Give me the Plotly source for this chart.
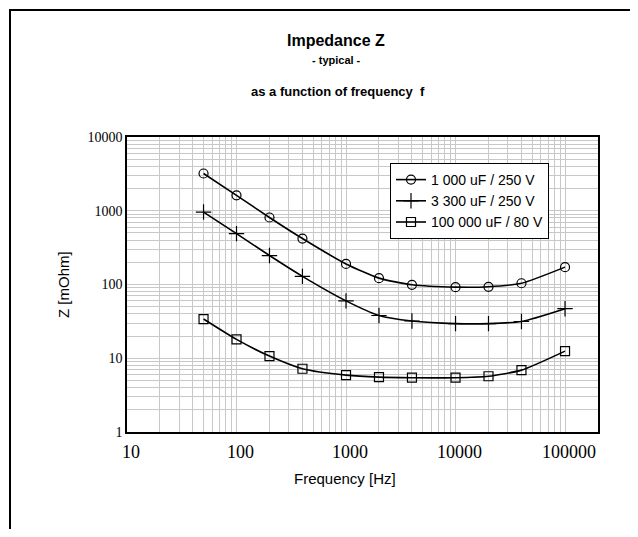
import plotly.graph_objects as go

# ---- data ----
freq_hz = [50, 100, 200, 400, 1000, 2000, 4000, 10000, 20000, 40000, 100000]
z_1000uF_250V = [3200, 1620, 810, 420, 190, 122, 99, 92, 93, 104, 172]
z_3300uF_250V = [960, 490, 247, 129, 60, 38, 32, 29.5, 29.5, 31.5, 47]
z_100000uF_80V = [34, 18, 10.7, 7.2, 5.9, 5.55, 5.45, 5.45, 5.7, 6.9, 12.5]
series_names = ["1 000 uF / 250 V", "3 300 uF / 250 V", "100 000 uF / 80 V"]
x_tick_labels = ["10", "100", "1000", "10000", "100000"]
y_tick_labels = ["1", "10", "100", "1000", "10000"]

# ---- layout geometry (pixels in the page; body margin offset = 8) ----
OFF = 8
W, H = 622, 521
L, R, T, B = 127 - OFF, 598 - OFF, 137 - OFF, 432 - OFF
pw, ph = R - L, B - T


def px(x):
    return (x - OFF - L) / pw


def py(y):
    return (B - (y - OFF)) / ph


# gridline positions (decade multiples)
x_major = [10 ** k for k in range(1, 6)]
x_grid = [m * 10 ** k for k in range(1, 6) for m in range(1, 10) if m * 10 ** k <= 200000]
x_text = [x_tick_labels[x_major.index(v)] if v in x_major else "" for v in x_grid]
y_major = [10 ** k for k in range(0, 5)]
y_grid = [m * 10 ** k for k in range(0, 5) for m in range(1, 10) if m * 10 ** k <= 10000]
y_text = [y_tick_labels[y_major.index(v)] if v in y_major else "" for v in y_grid]

fig = go.Figure()
symbols = ["circle-open", "cross-thin-open", "square-open"]
sizes = [9, 11, 9]
for name, ys, sym, sz in zip(series_names, [z_1000uF_250V, z_3300uF_250V, z_100000uF_80V], symbols, sizes):
    fig.add_trace(go.Scatter(
        x=freq_hz, y=ys, name=name, mode="lines+markers",
        line=dict(color="black", width=1.6, shape="spline", smoothing=0.6),
        marker=dict(symbol=sym, size=sz, color="black", line=dict(width=1.2, color="black")),
    ))

axis_common = dict(
    showline=True, linecolor="black", linewidth=1.5, mirror=True,
    showgrid=True, gridcolor="#c8c8c8", gridwidth=1,
    zeroline=False, ticks="",
)

font_sans = "Liberation Sans, Arial"


def label(text, x, y, size, angle=0):
    return dict(text=text, x=px(x), y=py(y), xref="paper", yref="paper",
                xanchor="center", yanchor="middle", textangle=angle,
                showarrow=False, font=dict(family=font_sans, size=size, color="black"))


fig.update_layout(
    width=W, height=H,
    margin=dict(l=L, r=W - R, t=T, b=H - B),
    paper_bgcolor="white", plot_bgcolor="white",
    showlegend=True,
    legend=dict(
        x=px(390), y=py(163), xanchor="left", yanchor="top",
        bgcolor="white", bordercolor="black", borderwidth=1,
        font=dict(family=font_sans, size=14, color="black"),
        itemwidth=30, tracegroupgap=0,
    ),
    xaxis=dict(
        type="log", range=[1, 5.301],
        tickmode="array", tickvals=x_grid, ticktext=x_text,
        tickfont=dict(family="Liberation Serif, Times New Roman", size=18, color="black"),
        ticklabelstandoff=3, ticklabelshift=4,
        **axis_common,
    ),
    yaxis=dict(
        type="log", range=[0, 4],
        tickmode="array", tickvals=y_grid, ticktext=y_text,
        tickfont=dict(family="Liberation Serif, Times New Roman", size=14, color="black"),
        **axis_common,
    ),
    annotations=[
        label("<b>Impedance Z</b>", 336, 40, 16),
        label("<b>- typical -</b>", 336, 60, 11),
        label("<b>as a function of frequency  f</b>", 338, 92, 13),
        label("Z [mOhm]", 63, 285, 15, -90),
        label("Frequency [Hz]", 345, 478, 15),
    ],
    shapes=[
        dict(type="line", xref="paper", yref="paper", x0=px(10), x1=px(660), y0=py(10), y1=py(10),
             line=dict(color="black", width=2)),
        dict(type="line", xref="paper", yref="paper", x0=px(10), x1=px(10), y0=py(9), y1=py(560),
             line=dict(color="black", width=2)),
    ],
)

fig.write_html("out.html")
